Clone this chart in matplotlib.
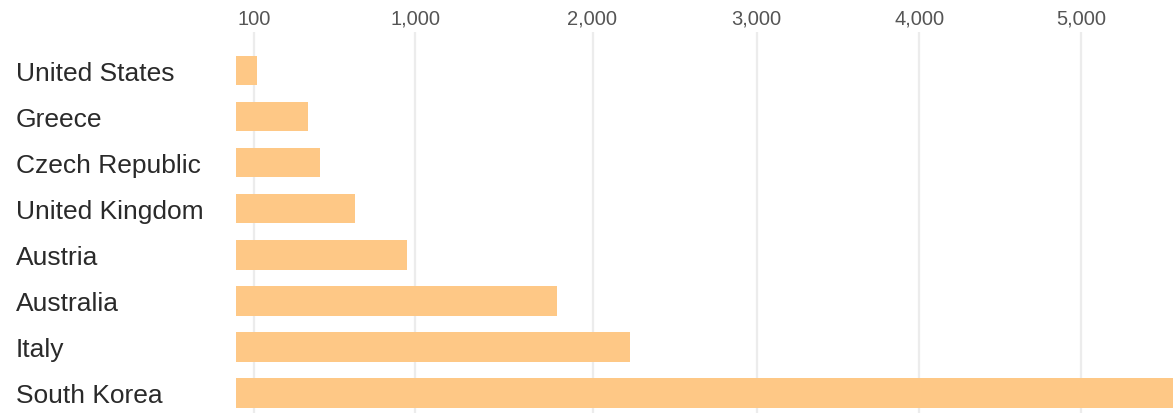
import matplotlib.pyplot as plt
import matplotlib.transforms as mtransforms
import numpy as np

# ── Data ─────────────────────────────────────────────────────────
countries = [
    "United States",
    "Greece",
    "Czech Republic",
    "United Kingdom",
    "Austria",
    "Australia",
    "Italy",
    "South Korea",
]
values = [117, 399, 466, 664, 953, 1798, 2228, 5800]
tick_values = [100, 1000, 2000, 3000, 4000, 5000]

# ── Axis scale (reference spacing between gridlines is uneven) ───
scale_vals = np.array([0, 100, 1000, 2000, 3000, 4000, 5000, 7000])
scale_pos = np.array([0, 18.6, 179.3, 356.8, 521.0, 683.6, 845.3, 1168.7])


def fwd(v):
    return np.interp(v, scale_vals, scale_pos)


def inv(p):
    return np.interp(p, scale_pos, scale_vals)


BAR_COLOR = "#fec886"
GRID_COLOR = "#ececec"
TEXT_COLOR = "#2a2a2a"
TICK_COLOR = "#555555"

plt.rcParams["font.family"] = ["Liberation Sans", "DejaVu Sans"]

W, H = 1173, 414
fig = plt.figure(figsize=(W / 100, H / 100), dpi=100)
left_px, top_px = 235.7, 33
ax = fig.add_axes([left_px / W, 0, 1 - left_px / W, 1 - top_px / H])

ax.set_xscale("function", functions=(fwd, inv))
y = np.arange(len(countries))
ax.barh(y, values, height=0.64, color=BAR_COLOR, zorder=2)

ax.set_xlim(0, inv(W - left_px))
ax.set_ylim(len(countries) - 1 + 0.43, -0.83)

ax.xaxis.tick_top()
ax.set_xticks(tick_values)
ax.set_xticklabels([f"{v:,}" for v in tick_values])
ax.tick_params(axis="x", length=0, pad=3, labelsize=14.5, labelcolor=TICK_COLOR)
ax.xaxis.grid(True, color=GRID_COLOR, linewidth=1.6, zorder=0)
ax.set_yticks([])
for s in ax.spines.values():
    s.set_visible(False)

# country labels, left aligned at the figure edge
trans = mtransforms.blended_transform_factory(fig.transFigure, ax.transData)
for i, name in enumerate(countries):
    ax.text(16 / W, i + 0.2, name, transform=trans, ha="left", va="baseline",
            fontsize=19, color=TEXT_COLOR)

fig.savefig("out.png", dpi=100)
